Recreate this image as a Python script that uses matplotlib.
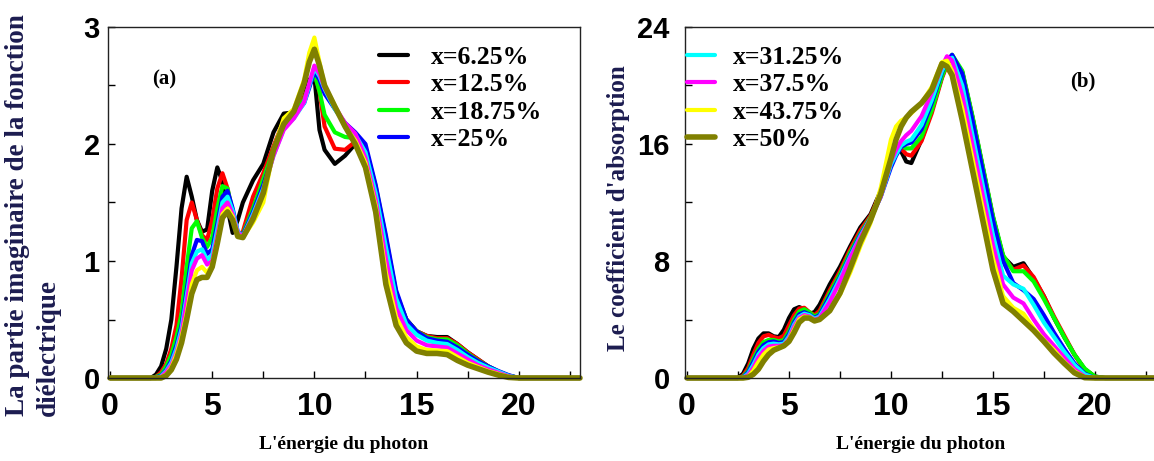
import matplotlib
matplotlib.use("Agg")
import matplotlib.pyplot as plt
from matplotlib.ticker import MultipleLocator

# photon energy grids (eV)
energy_a = [0, 2.0, 2.25, 2.5, 2.75, 3.0, 3.25, 3.5, 3.75, 4.0, 4.25, 4.5, 4.75, 5.0, 5.25,
            5.5, 5.75, 6.0, 6.25, 6.5, 7.0, 7.5, 8.0, 8.5, 9.0, 9.5, 9.75, 10.0, 10.25, 10.5,
            11.0, 11.5, 12.0, 12.5, 13.0, 13.5, 14.0, 14.5, 15.0, 15.5, 16.0, 16.5, 17.0,
            17.5, 18.0, 18.5, 19.0, 19.5, 20.0, 23.0]
energy_b = [0, 2.5, 2.75, 3.0, 3.25, 3.5, 3.75, 4.0, 4.25, 4.5, 4.75, 5.0, 5.25, 5.5, 5.75,
            6.0, 6.25, 6.5, 7.0, 7.5, 8.0, 8.5, 9.0, 9.5, 10.0, 10.25, 10.5, 10.75, 11.0,
            11.5, 12.0, 12.5, 12.75, 13.0, 13.5, 14.0, 14.5, 15.0, 15.5, 16.0, 16.5, 17.0,
            17.5, 18.0, 18.5, 19.0, 19.5, 20.0, 20.5, 23.0]

labels = ["x=6.25%", "x=12.5%", "x=18.75%", "x=25%",
          "x=31.25%", "x=37.5%", "x=43.75%", "x=50%"]

# (a) imaginary part of the dielectric function
eps2_625 = [0, 0, 0.03, 0.1, 0.25, 0.5, 0.95, 1.45, 1.72, 1.55, 1.35, 1.25, 1.27, 1.6, 1.8,
            1.68, 1.45, 1.24, 1.35, 1.5, 1.69, 1.83, 2.1, 2.26, 2.27, 2.4, 2.55, 2.58, 2.12,
            1.95, 1.83, 1.9, 2.0, 1.93, 1.6, 1.15, 0.7, 0.5, 0.4, 0.36, 0.35, 0.35, 0.29,
            0.22, 0.16, 0.1, 0.05, 0.02, 0, 0]
eps2_125 = [0, 0, 0.01, 0.05, 0.12, 0.25, 0.45, 0.85, 1.35, 1.5, 1.35, 1.22, 1.18, 1.35,
            1.62, 1.75, 1.62, 1.38, 1.22, 1.25, 1.55, 1.75, 1.98, 2.2, 2.27, 2.4, 2.5, 2.62,
            2.45, 2.15, 1.96, 1.95, 2.02, 1.95, 1.62, 1.18, 0.72, 0.5, 0.4, 0.36, 0.34, 0.34,
            0.29, 0.22, 0.16, 0.1, 0.055, 0.02, 0, 0]
eps2_1875 = [0, 0, 0.01, 0.03, 0.1, 0.2, 0.35, 0.55, 0.95, 1.28, 1.34, 1.2, 1.12, 1.2, 1.45,
             1.64, 1.62, 1.42, 1.22, 1.23, 1.45, 1.7, 1.95, 2.18, 2.26, 2.38, 2.5, 2.6, 2.45,
             2.25, 2.1, 2.06, 2.05, 1.97, 1.64, 1.2, 0.73, 0.5, 0.4, 0.35, 0.33, 0.33, 0.28,
             0.21, 0.15, 0.1, 0.055, 0.02, 0, 0]
eps2_25 = [0, 0, 0.005, 0.02, 0.07, 0.15, 0.28, 0.45, 0.75, 1.05, 1.18, 1.17, 1.06, 1.1,
           1.32, 1.55, 1.6, 1.45, 1.25, 1.22, 1.42, 1.65, 1.92, 2.15, 2.24, 2.35, 2.48, 2.62,
           2.55, 2.43, 2.3, 2.18, 2.1, 2.0, 1.65, 1.22, 0.75, 0.5, 0.4, 0.34, 0.32, 0.31,
           0.26, 0.2, 0.145, 0.1, 0.06, 0.025, 0, 0]
eps2_3125 = [0, 0, 0, 0.015, 0.06, 0.13, 0.25, 0.42, 0.7, 0.98, 1.08, 1.1, 1.01, 1.05, 1.27,
             1.5, 1.55, 1.43, 1.25, 1.21, 1.4, 1.62, 1.9, 2.13, 2.22, 2.35, 2.5, 2.65, 2.58,
             2.47, 2.3, 2.17, 2.08, 1.93, 1.58, 1.12, 0.68, 0.46, 0.37, 0.32, 0.3, 0.29, 0.24,
             0.18, 0.13, 0.09, 0.055, 0.02, 0, 0]
eps2_375 = [0, 0, 0, 0.01, 0.05, 0.11, 0.22, 0.38, 0.65, 0.92, 1.02, 1.05, 0.97, 1.0, 1.22,
            1.45, 1.5, 1.4, 1.24, 1.21, 1.38, 1.6, 1.9, 2.12, 2.22, 2.36, 2.52, 2.67, 2.6,
            2.48, 2.32, 2.18, 2.09, 1.88, 1.52, 1.02, 0.6, 0.41, 0.32, 0.28, 0.27, 0.26, 0.21,
            0.16, 0.11, 0.075, 0.045, 0.015, 0, 0]
eps2_4375 = [0, 0, 0, 0.005, 0.03, 0.09, 0.2, 0.35, 0.55, 0.8, 0.92, 0.95, 0.9, 0.97, 1.18,
             1.4, 1.45, 1.38, 1.22, 1.2, 1.33, 1.5, 1.95, 2.22, 2.3, 2.55, 2.78, 2.91, 2.7,
             2.5, 2.33, 2.15, 2.03, 1.84, 1.47, 0.9, 0.52, 0.35, 0.27, 0.24, 0.235, 0.23, 0.18,
             0.13, 0.095, 0.06, 0.035, 0.01, 0, 0]
eps2_50 = [0, 0, 0, 0, 0.02, 0.07, 0.16, 0.3, 0.5, 0.72, 0.84, 0.86, 0.86, 0.95, 1.15, 1.37,
           1.42, 1.35, 1.21, 1.2, 1.36, 1.58, 1.95, 2.17, 2.28, 2.52, 2.7, 2.81, 2.67, 2.5,
           2.32, 2.15, 2.0, 1.8, 1.42, 0.8, 0.45, 0.3, 0.23, 0.21, 0.21, 0.2, 0.15, 0.11,
           0.08, 0.05, 0.025, 0.005, 0, 0]

# (b) absorption coefficient
alpha_625 = [0, 0, 0.3, 1.0, 2.0, 2.7, 3.05, 3.05, 2.85, 2.8, 3.3, 4.1, 4.7, 4.85, 4.7, 4.4,
             4.5, 5.0, 6.4, 7.6, 9.0, 10.3, 11.2, 12.8, 15.2, 15.8, 15.5, 14.8, 14.7, 16.3,
             18.3, 20.6, 21.5, 22.0, 20.9, 17.8, 14.4, 11.0, 8.3, 7.6, 7.85, 6.8, 5.6, 4.1,
             2.8, 1.6, 0.6, 0.1, 0, 0]
alpha_125 = [0, 0, 0.15, 0.7, 1.6, 2.4, 2.85, 2.95, 2.8, 2.7, 2.9, 3.6, 4.3, 4.75, 4.8, 4.5,
             4.3, 4.6, 6.0, 7.3, 8.8, 10.1, 11.1, 12.7, 15.0, 15.6, 15.7, 15.3, 15.2, 16.2,
             18.1, 20.5, 21.4, 22.0, 20.9, 17.8, 14.4, 11.0, 8.3, 7.4, 7.7, 6.9, 5.6, 4.2,
             2.9, 1.6, 0.6, 0.05, 0, 0]
alpha_1875 = [0, 0, 0.1, 0.5, 1.3, 2.0, 2.45, 2.6, 2.6, 2.5, 2.6, 3.2, 4.0, 4.55, 4.7, 4.5,
              4.2, 4.4, 5.8, 7.1, 8.6, 9.9, 11.0, 12.6, 14.8, 15.6, 15.9, 15.7, 15.7, 16.5,
              18.3, 20.6, 21.5, 22.1, 21.0, 17.9, 14.5, 11.1, 8.4, 7.3, 7.3, 6.6, 5.4, 4.1,
              2.8, 1.6, 0.65, 0.1, 0, 0]
alpha_25 = [0, 0, 0.05, 0.4, 1.1, 1.8, 2.25, 2.45, 2.5, 2.4, 2.45, 3.0, 3.8, 4.35, 4.5, 4.35,
            4.1, 4.3, 5.6, 6.9, 8.4, 9.8, 10.9, 12.4, 14.4, 15.2, 15.8, 16.0, 16.1, 17.0,
            18.8, 20.9, 21.7, 22.1, 20.8, 17.6, 14.2, 10.8, 8.0, 6.5, 6.0, 5.4, 4.3, 3.1,
            2.0, 1.0, 0.3, 0, 0, 0]
alpha_3125 = [0, 0, 0.03, 0.3, 0.9, 1.6, 2.05, 2.3, 2.35, 2.3, 2.35, 2.85, 3.65, 4.2, 4.4,
              4.3, 4.05, 4.2, 5.4, 6.8, 8.3, 9.7, 10.9, 12.4, 14.6, 15.3, 15.9, 16.15, 16.3,
              17.3, 19.0, 21.0, 21.7, 21.9, 20.0, 16.6, 13.2, 9.8, 7.0, 6.4, 6.1, 5.0, 3.8,
              2.8, 1.8, 0.9, 0.25, 0, 0, 0]
alpha_375 = [0, 0, 0.02, 0.2, 0.7, 1.4, 1.85, 2.15, 2.2, 2.2, 2.25, 2.7, 3.5, 4.1, 4.3, 4.2,
             4.0, 4.1, 5.2, 6.6, 8.2, 9.6, 10.9, 12.4, 14.8, 15.6, 16.2, 16.6, 16.9, 17.9,
             19.5, 21.3, 22.0, 21.7, 19.3, 15.9, 12.5, 9.1, 6.4, 5.5, 5.1, 4.0, 3.0, 2.2,
             1.4, 0.6, 0.1, 0, 0, 0]
alpha_4375 = [0, 0, 0, 0.1, 0.5, 1.1, 1.6, 1.95, 2.05, 2.1, 2.2, 2.6, 3.3, 4.0, 4.2, 4.15,
              3.95, 4.0, 4.6, 5.7, 7.2, 9.0, 10.6, 13.0, 16.3, 17.2, 17.6, 17.8, 18.1, 18.8,
              19.9, 21.6, 21.7, 21.0, 18.4, 15.0, 11.6, 8.2, 5.6, 4.8, 4.4, 3.4, 2.6, 1.9,
              1.1, 0.45, 0.05, 0, 0, 0]
alpha_50 = [0, 0, 0, 0.05, 0.25, 0.6, 1.15, 1.6, 1.9, 2.05, 2.2, 2.5, 3.1, 3.8, 4.1, 4.1,
            3.9, 4.0, 4.6, 5.8, 7.5, 9.3, 10.8, 12.6, 15.0, 16.3, 17.2, 17.8, 18.2, 18.8,
            19.7, 21.5, 21.3, 20.7, 17.6, 14.2, 10.8, 7.4, 5.1, 4.55, 3.9, 3.25, 2.5, 1.7,
            1.0, 0.35, 0.02, 0, 0, 0]

eps2_series = [eps2_625, eps2_125, eps2_1875, eps2_25, eps2_3125, eps2_375, eps2_4375, eps2_50]
alpha_series = [alpha_625, alpha_125, alpha_1875, alpha_25,
                alpha_3125, alpha_375, alpha_4375, alpha_50]

colors = ["black", "red", "#00ff00", "blue", "cyan", "magenta", "yellow", "#808000"]
widths = [3.0, 3.0, 3.0, 3.0, 3.0, 3.0, 3.0, 4.0]

tick_font = ["Liberation Sans Narrow", "Liberation Sans", "DejaVu Sans"]
serif = ["Liberation Serif", "DejaVu Serif"]
navy = "#1c1c50"

fig = plt.figure(figsize=(11.54, 4.61), dpi=100)
ax_a = fig.add_axes([108 / 1154, 83 / 461, 472 / 1154, 351 / 461])
ax_b = fig.add_axes([685 / 1154, 83 / 461, 471 / 1154, 351 / 461])

lines_a, lines_b = [], []
for ys, c, lw, lab in zip(eps2_series, colors, widths, labels):
    ln, = ax_a.plot(energy_a, ys, color=c, lw=lw, label=lab, clip_on=False,
                    solid_capstyle="round", solid_joinstyle="round")
    lines_a.append(ln)
for ys, c, lw, lab in zip(alpha_series, colors, widths, labels):
    ln, = ax_b.plot(energy_b, ys, color=c, lw=lw, label=lab, clip_on=False,
                    solid_capstyle="round", solid_joinstyle="round")
    lines_b.append(ln)

ax_a.set_xlim(-0.1, 23)
ax_a.set_ylim(0, 3)
ax_a.yaxis.set_major_locator(MultipleLocator(1))
ax_a.yaxis.set_minor_locator(MultipleLocator(0.5))

ax_b.set_xlim(-0.1, 23)
ax_b.set_ylim(0, 24)
ax_b.yaxis.set_major_locator(MultipleLocator(8))
ax_b.yaxis.set_minor_locator(MultipleLocator(4))

for ax, ypad in ((ax_a, 6), (ax_b, 11)):
    ax.xaxis.set_major_locator(MultipleLocator(5))
    ax.xaxis.set_minor_locator(MultipleLocator(2.5))
    ax.tick_params(which="both", direction="in", length=5, width=1, top=False, right=False)
    ax.tick_params(axis="x", which="major", pad=10)
    ax.tick_params(axis="y", which="major", pad=ypad)
    for sp in ax.spines.values():
        sp.set_linewidth(1.0)
        sp.set_color("#222222")
    for t in ax.get_xticklabels():
        t.set_fontfamily(tick_font)
        t.set_fontweight("bold")
        t.set_fontsize(23)
    for t in ax.get_yticklabels():
        t.set_fontfamily(tick_font)
        t.set_fontweight("bold")
        t.set_fontsize(21)
    ax.set_xlabel("L'énergie du photon", family=serif, fontweight="bold", fontsize=14,
                  labelpad=10)

fig.text(33 / 1154, 1 - 215 / 461, "La partie imaginaire de la fonction\ndiélectrique",
         rotation=90, ha="center", va="center", multialignment="left",
         family=serif, fontweight="bold", fontsize=19.5, color=navy, linespacing=1.3)
fig.text(618 / 1154, 1 - 208 / 461, "Le coefficient d'absorption",
         rotation=90, ha="center", va="center",
         family=serif, fontweight="bold", fontsize=18, color=navy)

ax_a.text(0.12, 0.85, "(a)", transform=ax_a.transAxes, ha="center", va="center",
          family=serif, fontweight="bold", fontsize=15)
ax_b.text(0.845, 0.845, "(b)", transform=ax_b.transAxes, ha="center", va="center",
          family=serif, fontweight="bold", fontsize=15)

leg_kw = dict(frameon=False, loc="upper left", borderpad=0, borderaxespad=0,
              handlelength=1.1, labelspacing=0.16,
              prop={"family": serif, "weight": "bold", "size": 18.5})
ax_a.legend(handles=lines_a[:4], bbox_to_anchor=(0.575, 0.945), handletextpad=0.9, **leg_kw)
ax_b.legend(handles=lines_b[4:], bbox_to_anchor=(0.004, 0.945), handletextpad=0.7, **leg_kw)

fig.savefig("out.png", dpi=100)
